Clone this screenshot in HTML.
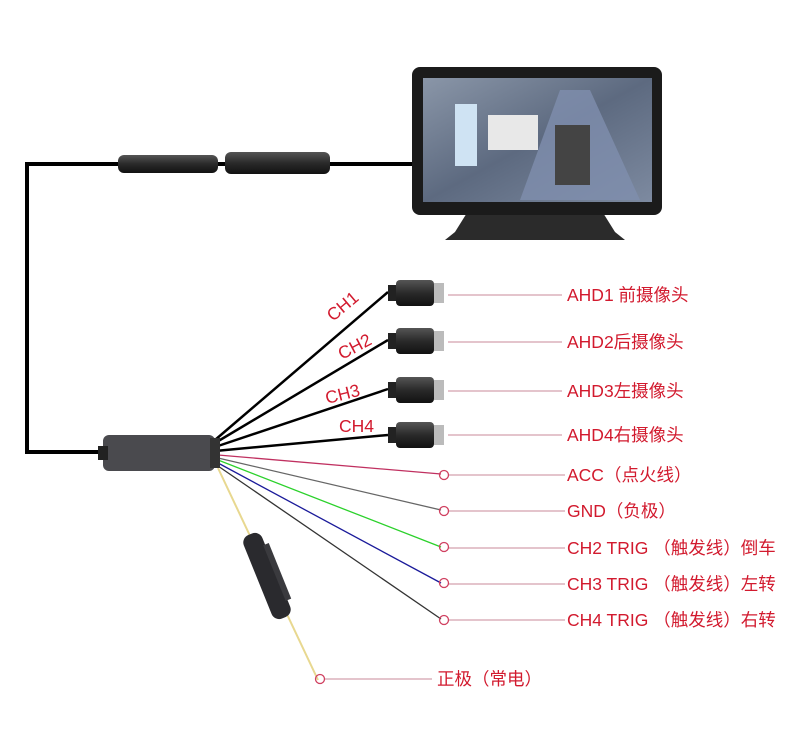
<!DOCTYPE html>
<html><head><meta charset="utf-8"><style>
html,body{margin:0;padding:0;background:#fff;}
svg{display:block}
text{font-family:"Liberation Sans","Noto Sans CJK SC",sans-serif;fill:#d21a2e;font-size:17.5px;}
</style></head><body>
<svg width="800" height="738" viewBox="0 0 800 738">
<defs>
<linearGradient id="cg" x1="0" y1="0" x2="0" y2="1"><stop offset="0" stop-color="#555"/><stop offset=".5" stop-color="#2a2a2a"/><stop offset="1" stop-color="#111"/></linearGradient>
<linearGradient id="sc" x1="0" y1="0" x2="1" y2="1"><stop offset="0" stop-color="#8a96a8"/><stop offset=".5" stop-color="#5d6a80"/><stop offset="1" stop-color="#7d8aa0"/></linearGradient>
<g id="cam"><rect x="0" y="-8" width="10" height="16" fill="#222"/><rect x="8" y="-13" width="38" height="26" rx="4" fill="url(#cg)"/><rect x="46" y="-10" width="10" height="20" fill="#bbb"/></g>
</defs>
<polyline points="412,164 27,164 27,452 105,452" fill="none" stroke="#000" stroke-width="4"/>
<rect x="118" y="155" width="100" height="18" rx="6" fill="url(#cg)"/>
<rect x="225" y="152" width="105" height="22" rx="6" fill="url(#cg)"/>
<path d="M470,208 L455,232 L445,240 L625,240 L615,232 L600,208 Z" fill="#2b2b2b"/>
<rect x="412" y="67" width="250" height="148" rx="8" fill="#1b1b1b"/>
<rect x="423" y="78" width="229" height="124" fill="url(#sc)"/>
<rect x="455" y="104" width="22" height="62" fill="#cfe3f3"/>
<rect x="488" y="115" width="50" height="35" fill="#e8e8e8"/>
<polygon points="560,90 590,90 640,200 520,200" fill="#7f8fae" opacity=".8"/>
<rect x="555" y="125" width="35" height="60" fill="#444"/>
<g stroke="#000" stroke-width="2.5" fill="none">
<line x1="215" y1="440" x2="388" y2="292"/>
<line x1="215" y1="443" x2="388" y2="340"/>
<line x1="215" y1="447" x2="388" y2="389"/>
<line x1="215" y1="451" x2="388" y2="435"/>
</g>
<g fill="none" stroke-width="1.3">
<line x1="218" y1="455" x2="441" y2="474" stroke="#c03060"/>
<line x1="218" y1="458" x2="441" y2="510" stroke="#666"/>
<line x1="218" y1="460" x2="441" y2="547" stroke="#2bd12b"/>
<line x1="218" y1="463" x2="441" y2="583" stroke="#1a1a9a"/>
<line x1="218" y1="466" x2="441" y2="619" stroke="#333"/>
<line x1="218" y1="468" x2="318" y2="680" stroke="#e8d890" stroke-width="2"/>
</g>
<g transform="translate(267,576) rotate(-22)"><rect x="-10" y="-45" width="20" height="90" rx="8" fill="#2a2a2e"/><rect x="8" y="-30" width="6" height="60" fill="#3a3a3e"/></g>
<rect x="103" y="435" width="112" height="36" rx="6" fill="#4a4a4e"/>
<rect x="98" y="446" width="10" height="14" fill="#222"/>
<rect x="210" y="438" width="10" height="30" fill="#333"/>
<use href="#cam" x="388" y="293"/><use href="#cam" x="388" y="341"/><use href="#cam" x="388" y="390"/><use href="#cam" x="388" y="435"/>
<g stroke="#c88a9a" stroke-width="1">
<line x1="448" y1="295" x2="562" y2="295"/><line x1="448" y1="342" x2="562" y2="342"/>
<line x1="448" y1="391" x2="562" y2="391"/><line x1="448" y1="435" x2="562" y2="435"/>
<line x1="448" y1="475" x2="565" y2="475"/><line x1="448" y1="511" x2="565" y2="511"/>
<line x1="448" y1="548" x2="565" y2="548"/><line x1="448" y1="584" x2="565" y2="584"/>
<line x1="448" y1="620" x2="565" y2="620"/><line x1="324" y1="679" x2="432" y2="679"/>
</g>
<g fill="none" stroke="#d04060" stroke-width="1.3">
<circle cx="444" cy="475" r="4.5"/><circle cx="444" cy="511" r="4.5"/><circle cx="444" cy="547" r="4.5"/><circle cx="444" cy="583" r="4.5"/><circle cx="444" cy="620" r="4.5"/><circle cx="320" cy="679" r="4.5"/>
</g>
<text x="567" y="301">AHD1 前摄像头</text>
<text x="567" y="348">AHD2后摄像头</text>
<text x="567" y="397">AHD3左摄像头</text>
<text x="567" y="441">AHD4右摄像头</text>
<text x="567" y="481">ACC（点火线）</text>
<text x="567" y="517">GND（负极）</text>
<text x="567" y="554">CH2 TRIG （触发线）倒车</text>
<text x="567" y="590">CH3 TRIG （触发线）左转</text>
<text x="567" y="626">CH4 TRIG （触发线）右转</text>
<text x="437" y="685">正极（常电）</text>
<text transform="translate(333,322) rotate(-40)">CH1</text>
<text transform="translate(342,360) rotate(-28)">CH2</text>
<text transform="translate(327,404) rotate(-14)">CH3</text>
<text x="339" y="432">CH4</text>
</svg>
</body></html>
